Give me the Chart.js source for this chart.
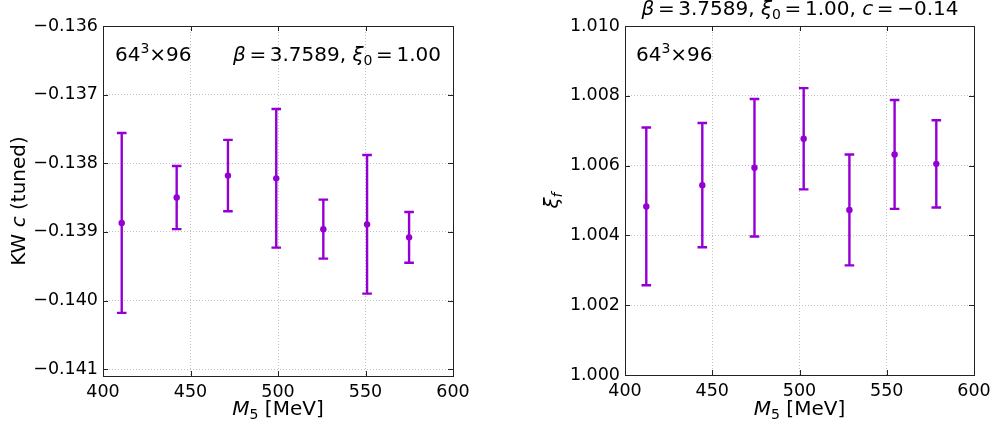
<!DOCTYPE html>
<html>
<head>
<meta charset="utf-8">
<script src="https://cdn.jsdelivr.net/npm/chart.js@4.4.0/dist/chart.umd.min.js"></script>
<style>
    html, body { margin: 0; padding: 0; background: #fff; }
    #cadreGlobal { position: relative; width: 994px; height: 428px; }
    canvas { position: absolute; top: 0; }
</style>
</head>
<body>
<div id="cadreGlobal">
    <canvas id="chartC" width="497" height="428" style="left:0"></canvas>
    <canvas id="chartXi" width="497" height="428" style="left:497px"></canvas>
</div>
<script>
// Données (M5 en MeV)
const massesC = [410.7, 442.1, 471.4, 499.0, 525.9, 550.9, 574.9];
const valeursC = [-0.13887, -0.13850, -0.13818, -0.13822, -0.13896, -0.13889, -0.13908];
const erreursC = [0.00131, 0.00046, 0.00052, 0.00101, 0.00043, 0.00101, 0.00037];
const ticksC = [-0.141, -0.140, -0.139, -0.138, -0.137, -0.136];

const massesXi = [412.2, 444.3, 474.2, 502.4, 528.6, 554.5, 578.4];
const valeursXi = [1.00483, 1.00544, 1.00594, 1.00677, 1.00473, 1.00632, 1.00605];
const erreursXi = [0.00226, 0.00178, 0.00197, 0.00145, 0.00159, 0.00156, 0.00125];
const ticksXi = [1.000, 1.002, 1.004, 1.006, 1.008, 1.010];

const ticksM = [400, 450, 500, 550, 600];

const VIOLET = '#9400d3';
const POLICE = '"DejaVu Sans", sans-serif';

// Texte avec italique / indices / exposants, morceaux = [[texte, style], ...]
// styles : i = italique, b = indice, p = exposant, r = relation (espacée)
function texteRiche(ctx, morceaux, x, y, align, taille) {
    const fonte = s => (s.includes('i') ? 'italic ' : '') +
        ((s.includes('b') || s.includes('p')) ? taille * 0.7 : taille) + 'px ' + POLICE;
    const marge = s => s.includes('r') ? taille * 0.18 : 0;
    let largeur = 0;
    const mesures = morceaux.map(([t, s = '']) => {
        ctx.font = fonte(s);
        const w = ctx.measureText(t).width + 2 * marge(s);
        largeur += w;
        return w;
    });
    let cx = align === 'center' ? x - largeur / 2 : (align === 'right' ? x - largeur : x);
    ctx.textAlign = 'left';
    ctx.textBaseline = 'alphabetic';
    ctx.fillStyle = '#000';
    morceaux.forEach(([t, s = ''], i) => {
        ctx.font = fonte(s);
        const dy = s.includes('b') ? taille * 0.2 : (s.includes('p') ? -taille * 0.42 : 0);
        ctx.fillText(t, cx + marge(s), y + dy);
        cx += mesures[i];
    });
}

// Cadre, graduations intérieures, barres d'erreur et textes
const cadre = {
    id: 'cadre',
    beforeDatasetsDraw(chart, args, opts) {
        const { ctx, chartArea: a, scales: { x, y } } = chart;
        ctx.save();
        ctx.strokeStyle = '#222';
        ctx.lineWidth = 1;
        ctx.beginPath();
        x.ticks.forEach(t => {
            const px = Math.round(x.getPixelForValue(t.value)) + 0.5;
            ctx.moveTo(px, a.bottom); ctx.lineTo(px, a.bottom - 5);
            ctx.moveTo(px, a.top); ctx.lineTo(px, a.top + 5);
        });
        y.ticks.forEach(t => {
            const py = Math.round(y.getPixelForValue(t.value)) + 0.5;
            ctx.moveTo(a.left, py); ctx.lineTo(a.left + 5, py);
            ctx.moveTo(a.right, py); ctx.lineTo(a.right - 5, py);
        });
        ctx.stroke();
        ctx.strokeRect(Math.round(a.left) + 0.5, Math.round(a.top) + 0.5,
            Math.round(a.width), Math.round(a.height));

        // barres d'erreur
        ctx.strokeStyle = VIOLET;
        ctx.lineWidth = 2.4;
        chart.data.datasets.forEach(ds => {
            ds.data.forEach((p, i) => {
                const px = x.getPixelForValue(p.x);
                const haut = y.getPixelForValue(p.y + ds.erreurs[i]);
                const bas = y.getPixelForValue(p.y - ds.erreurs[i]);
                ctx.beginPath();
                ctx.moveTo(px, haut); ctx.lineTo(px, bas);
                ctx.moveTo(px - 4.8, haut); ctx.lineTo(px + 4.8, haut);
                ctx.moveTo(px - 4.8, bas); ctx.lineTo(px + 4.8, bas);
                ctx.stroke();
            });
        });
        ctx.restore();
    },
    afterDraw(chart, args, opts) {
        const { ctx, chartArea: a } = chart;
        ctx.save();
        (opts.textes || []).forEach(t => texteRiche(ctx, t.morceaux, t.x, t.y, t.align, 20));
        // titre de l'axe x
        texteRiche(ctx, [['M', 'i'], ['5', 'b'], [' [MeV]']], (a.left + a.right) / 2, 415, 'center', 20);
        // titre de l'axe y (tourné)
        ctx.translate(opts.yTitreX, (a.top + a.bottom) / 2);
        ctx.rotate(-Math.PI / 2);
        texteRiche(ctx, opts.yTitre, 0, 0, 'center', 20);
        ctx.restore();
    }
};

function formatTick(v) {
    return v.toFixed(3).replace('-', '\u2212');
}

function creerGraphique(id, masses, valeurs, erreurs, ticksY, minY, maxY, largeurY, margeDroite, hauteurX, opts) {
    const ctx = document.getElementById(id).getContext('2d');
    return new Chart(ctx, {
        type: 'scatter',
        data: {
            datasets: [{
                data: masses.map((m, i) => ({ x: m, y: valeurs[i] })),
                erreurs: erreurs,
                backgroundColor: VIOLET,
                borderWidth: 0,
                pointRadius: 3.2,
                pointHoverRadius: 3.2
            }]
        },
        options: {
            responsive: false,
            animation: false,
            layout: { padding: { top: 26, right: margeDroite, left: 0, bottom: 0 } },
            plugins: { legend: { display: false }, tooltip: { enabled: false }, cadre: opts },
            scales: {
                x: {
                    type: 'linear', min: 400, max: 600,
                    afterBuildTicks: s => { s.ticks = ticksM.map(v => ({ value: v })); },
                    afterFit: s => { s.height = hauteurX; s.paddingLeft = 0; s.paddingRight = 0; },
                    grid: { color: '#b0b0b0', lineWidth: 0.8, drawTicks: false },
                    border: { display: false, dash: [1, 2] },
                    ticks: { color: '#000', padding: 6, font: { family: POLICE, size: 17.5 }, maxRotation: 0 }
                },
                y: {
                    type: 'linear', min: minY, max: maxY,
                    afterBuildTicks: s => { s.ticks = ticksY.map(v => ({ value: v })); },
                    afterFit: s => { s.width = largeurY; s.paddingTop = 0; s.paddingBottom = 0; },
                    grid: { color: '#b0b0b0', lineWidth: 0.8, drawTicks: false },
                    border: { display: false, dash: [1, 2] },
                    ticks: { color: '#000', padding: 5, font: { family: POLICE, size: 17.5 }, callback: formatTick }
                }
            }
        },
        plugins: [cadre]
    });
}

creerGraphique('chartC', massesC, valeursC, erreursC, ticksC, -0.1411, -0.136, 103, 44, 52, {
    yTitreX: 25,
    yTitre: [['KW '], ['c', 'i'], [' (tuned)']],
    textes: [
        { x: 115, y: 61, align: 'left', morceaux: [['64'], ['3', 'p'], ['\u00d796']] },
        { x: 441, y: 61, align: 'right', morceaux: [['\u03b2', 'i'], ['=', 'r'], ['3.7589, '], ['\u03be', 'i'], ['0', 'b'], ['=', 'r'], ['1.00']] }
    ]
});

creerGraphique('chartXi', massesXi, valeursXi, erreursXi, ticksXi, 1.000, 1.010, 128, 20, 53, {
    yTitreX: 61,
    yTitre: [['\u03be', 'i'], ['f', 'ib']],
    textes: [
        { x: 139, y: 61, align: 'left', morceaux: [['64'], ['3', 'p'], ['\u00d796']] },
        { x: 303, y: 15, align: 'center', morceaux: [['\u03b2', 'i'], ['=', 'r'], ['3.7589, '], ['\u03be', 'i'], ['0', 'b'], ['=', 'r'], ['1.00, '], ['c', 'i'], ['=', 'r'], ['\u22120.14']] }
    ]
});
</script>
</body>
</html>
